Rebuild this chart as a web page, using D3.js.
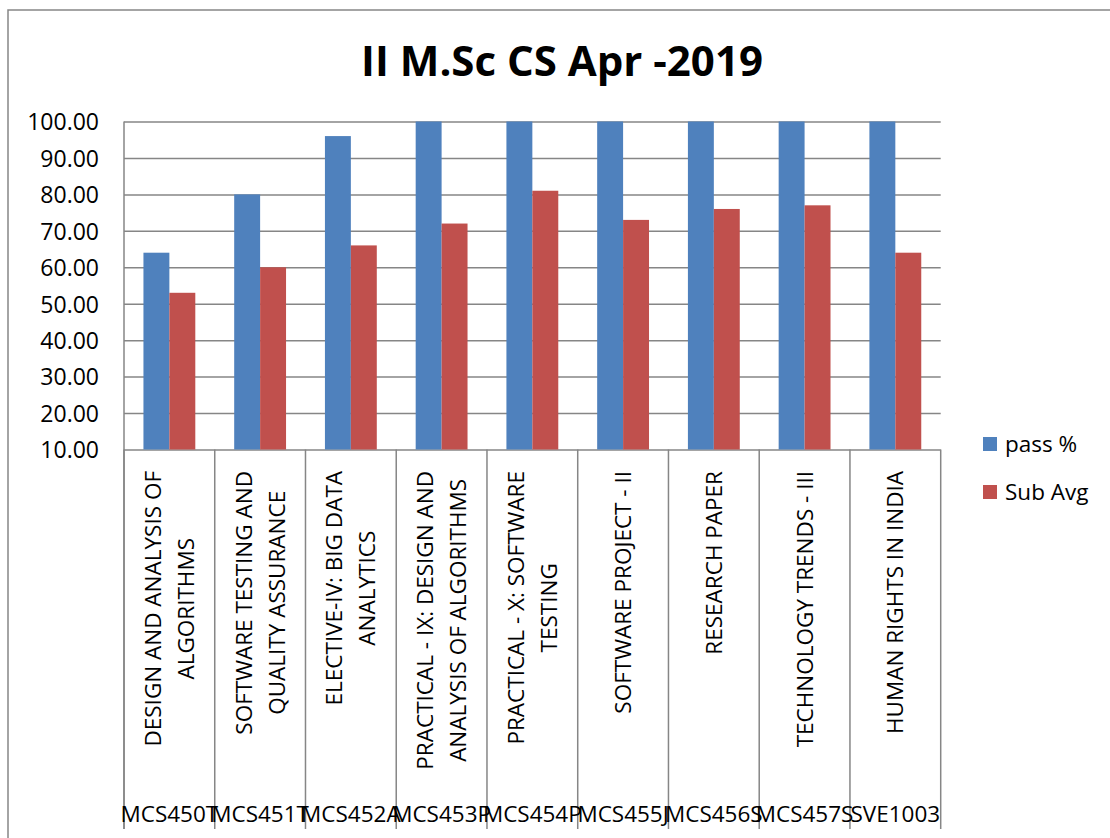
<!DOCTYPE html>
<html>
<head>
<meta charset="utf-8">
<script src="https://cdn.jsdelivr.net/npm/d3@7"></script>
<style>
  body { margin: 0; background: #fff; }
  text { font-family: "Open Sans", sans-serif; fill: #000; }
</style>
</head>
<body>
<svg id="chart" width="1110" height="838"></svg>
<script>
var codes = ['MCS450T', 'MCS451T', 'MCS452A', 'MCS453P', 'MCS454P', 'MCS455J', 'MCS456S', 'MCS457S', 'SVE1003'];

var subjects = [
  ['DESIGN AND ANALYSIS OF', 'ALGORITHMS'],
  ['SOFTWARE TESTING AND', 'QUALITY ASSURANCE'],
  ['ELECTIVE-IV: BIG DATA', 'ANALYTICS'],
  ['PRACTICAL - IX: DESIGN AND', 'ANALYSIS OF ALGORITHMS'],
  ['PRACTICAL - X: SOFTWARE', 'TESTING'],
  ['SOFTWARE PROJECT - II'],
  ['RESEARCH PAPER'],
  ['TECHNOLOGY TRENDS - III'],
  ['HUMAN RIGHTS IN INDIA']
];

var passPct = [64, 80, 96, 100, 100, 100, 100, 100, 100];
var subAvg = [53, 60, 66, 72, 81, 73, 76, 77, 64];

var yTicks = [10, 20, 30, 40, 50, 60, 70, 80, 90, 100];

var seriesNames = ['pass %', 'Sub Avg'];
var fills = { 'pass %': '#4f81bd', 'Sub Avg': '#c0504d' };

var svg = d3.select('#chart');
var plotLeft = 124, plotRight = 940.7, plotTop = 121.5, plotBottom = 449.5, labelBottom = 829;

// outer chart border
svg.append('rect')
  .attr('x', 8).attr('y', 10)
  .attr('width', 1120).attr('height', 840)
  .attr('fill', 'none')
  .attr('stroke', '#868686')
  .attr('stroke-width', 1.5);

svg.append('text')
  .attr('x', 562).attr('y', 76)
  .attr('text-anchor', 'middle')
  .attr('font-size', 42)
  .attr('font-weight', 'bold')
  .text('II M.Sc CS Apr -2019');

var x0 = d3.scaleBand().domain(codes).range([plotLeft, plotRight]).padding(0);
var bw = x0.bandwidth();
var x1 = d3.scaleBand().domain(seriesNames)
  .range([bw * 0.75 / 3.5, bw * 2.75 / 3.5]);
var y = d3.scaleLinear().domain([10, 100]).range([plotBottom, plotTop]);

// gridlines + tick labels
var yAxis = svg.append('g')
  .attr('transform', 'translate(' + plotLeft + ',0)')
  .call(d3.axisLeft(y).tickValues(yTicks).tickSize(-(plotRight - plotLeft)).tickPadding(25)
    .tickFormat(d3.format('.2f')));
yAxis.select('.domain').remove();
yAxis.selectAll('.tick line').attr('stroke', '#868686').attr('stroke-width', 1.5);
yAxis.selectAll('.tick text')
  .attr('font-size', 23)
  .attr('font-family', '"Open Sans", sans-serif')
  .attr('fill', '#000')
  .attr('dy', '0.36em');

// bars
var rows = codes.map(function (c, i) {
  return { code: c, values: [passPct[i], subAvg[i]] };
});

var groups = svg.append('g').selectAll('g')
  .data(rows)
  .join('g')
  .attr('transform', function (d) { return 'translate(' + x0(d.code) + ',0)'; });

groups.selectAll('rect')
  .data(function (d) {
    return seriesNames.map(function (s, k) { return { key: s, value: d.values[k] }; });
  })
  .join('rect')
  .attr('x', function (d) { return x1(d.key); })
  .attr('y', function (d) { return y(d.value); })
  .attr('width', x1.bandwidth())
  .attr('height', function (d) { return plotBottom - y(d.value); })
  .attr('fill', function (d) { return fills[d.key]; });

// left axis line down through the label area
svg.append('line')
  .attr('x1', plotLeft).attr('x2', plotLeft)
  .attr('y1', plotTop).attr('y2', labelBottom)
  .attr('stroke', '#868686').attr('stroke-width', 1.5);

// category separators
var bounds = codes.map(function (c) { return x0(c); }).concat([plotRight]);
svg.append('g').selectAll('line')
  .data(bounds)
  .join('line')
  .attr('x1', function (d) { return d; }).attr('x2', function (d) { return d; })
  .attr('y1', plotBottom).attr('y2', labelBottom)
  .attr('stroke', '#868686').attr('stroke-width', 1.5);

// rotated subject labels, block aligned to top, lines centred
var labelTop = 471, lineGap = 33, labelSize = 22.5;
subjects.forEach(function (lines, i) {
  var cx = x0(codes[i]) + bw / 2;
  var g = svg.append('g');
  var texts = lines.map(function (t, k) {
    var off = (k - (lines.length - 1) / 2) * lineGap;
    return g.append('text')
      .attr('font-size', labelSize)
      .attr('text-anchor', 'middle')
      .attr('dy', '0.36em')
      .attr('data-off', off)
      .text(t);
  });
  var maxW = d3.max(texts, function (t) { return t.node().getComputedTextLength(); });
  var cy = labelTop + maxW / 2;
  texts.forEach(function (t) {
    var px = cx + (+t.attr('data-off'));
    t.attr('transform', 'translate(' + px + ',' + cy + ') rotate(-90)');
  });
});

// code labels at the bottom
svg.append('g').selectAll('text')
  .data(codes)
  .join('text')
  .attr('x', function (d) { return x0(d) + bw / 2; })
  .attr('y', 822)
  .attr('text-anchor', 'middle')
  .attr('font-size', 22.5)
  .text(function (d) { return d; });

// legend
var legend = svg.append('g').selectAll('g')
  .data(seriesNames)
  .join('g')
  .attr('transform', function (d, i) { return 'translate(983,' + (437 + i * 48) + ')'; });
legend.append('rect')
  .attr('width', 14).attr('height', 14)
  .attr('fill', function (d) { return fills[d]; });
legend.append('text')
  .attr('x', 22).attr('y', 15)
  .attr('font-size', 22.5)
  .text(function (d) { return d; });
</script>
</body>
</html>
